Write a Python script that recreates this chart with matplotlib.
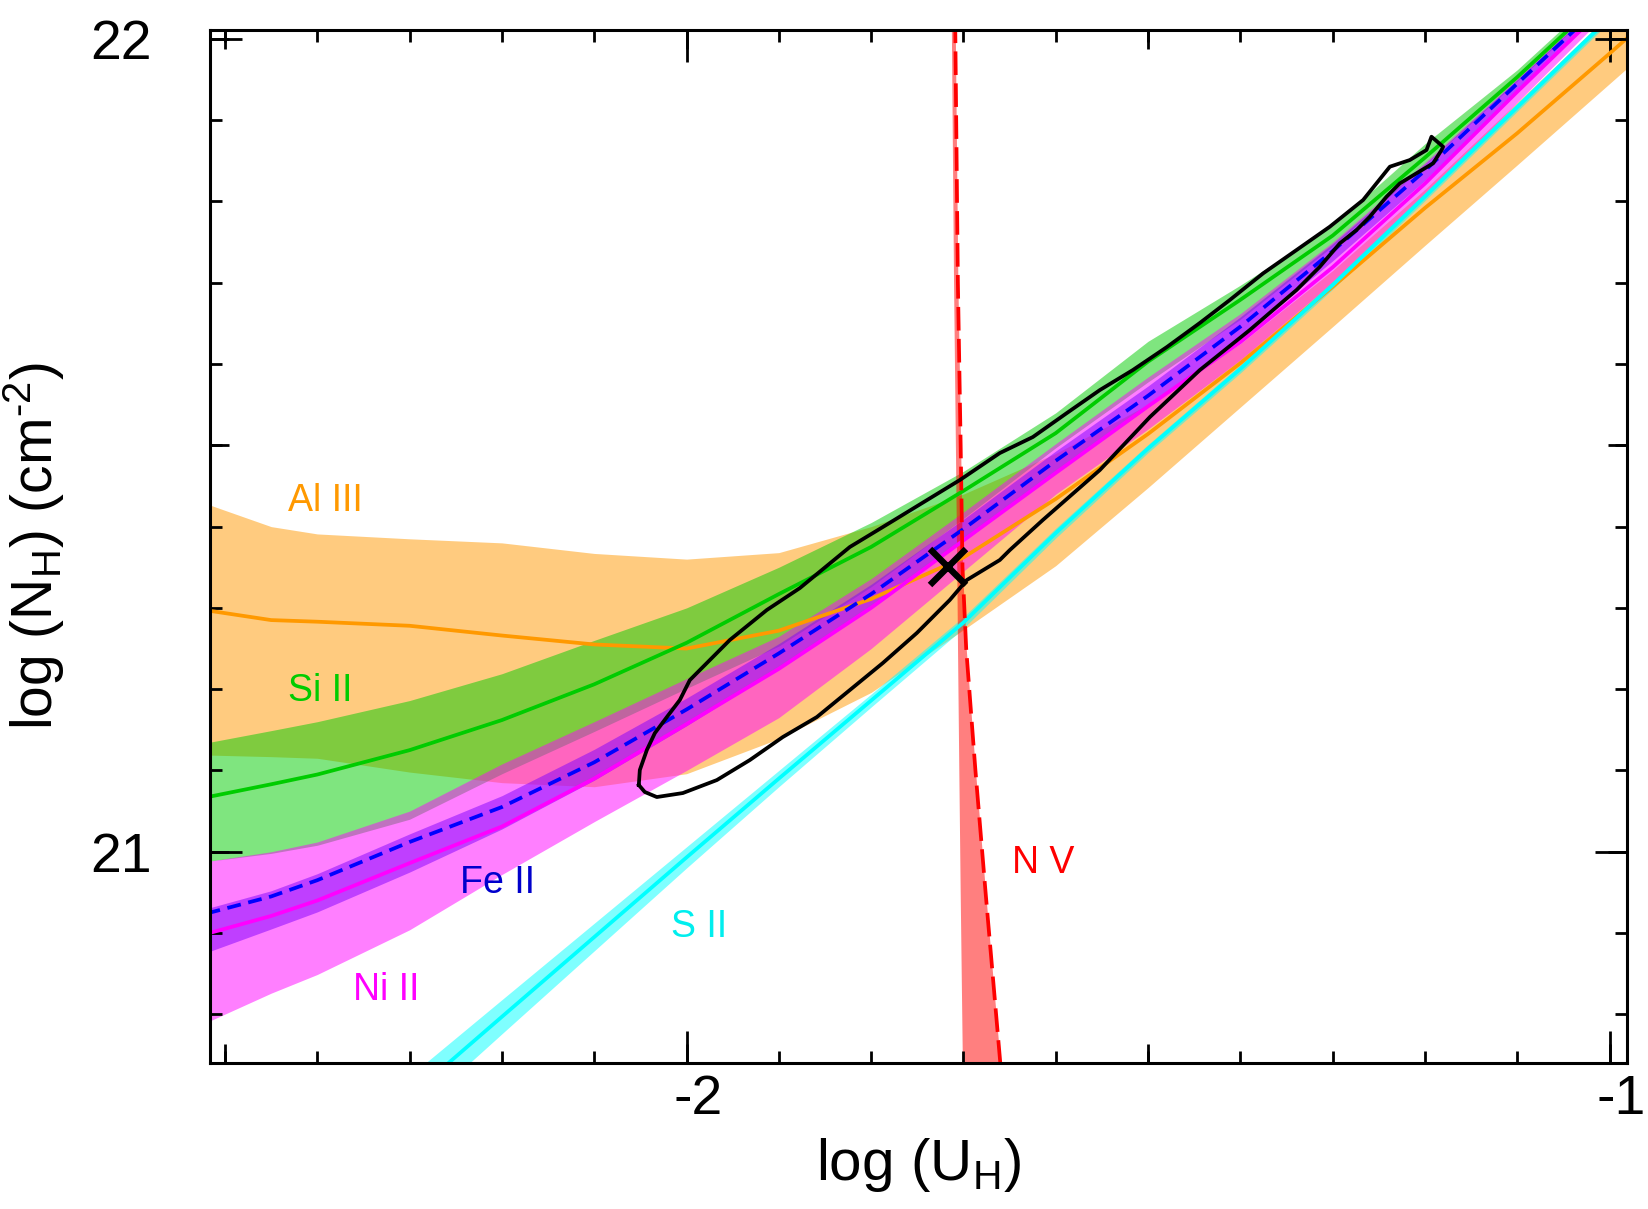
import matplotlib
matplotlib.use('Agg')
import matplotlib.pyplot as plt
from matplotlib.ticker import MultipleLocator
from matplotlib.transforms import ScaledTranslation

plt.rcParams['font.family'] = ['Liberation Sans', 'DejaVu Sans']
plt.rcParams['mathtext.fontset'] = 'custom'
plt.rcParams['mathtext.rm'] = 'Liberation Sans'
plt.rcParams['mathtext.it'] = 'Liberation Sans:italic'
plt.rcParams['mathtext.bf'] = 'Liberation Sans:bold'
plt.rcParams['axes.unicode_minus'] = False
plt.rcParams['lines.scale_dashes'] = False

# ---------------- data (log U_H grid) ----------------
log_u = [-2.52, -2.45, -2.40, -2.30, -2.20, -2.10, -2.00, -1.90, -1.80,
         -1.70, -1.60, -1.50, -1.40, -1.30, -1.20, -1.10, -1.00, -0.97]

# Al III
al3_mid = [21.297, 21.285, 21.283, 21.278, 21.266, 21.255, 21.250, 21.272, 21.311,
           21.362, 21.434, 21.514, 21.601, 21.695, 21.792, 21.884, 21.982, 22.012]
al3_hi = [21.428, 21.400, 21.391, 21.385, 21.380, 21.367, 21.360, 21.368, 21.400,
          21.440, 21.490, 21.550, 21.625, 21.715, 21.815, 21.922, 22.030, 22.065]
al3_lo = [21.119, 21.117, 21.115, 21.098, 21.085, 21.080, 21.096, 21.139, 21.196,
          21.273, 21.352, 21.448, 21.547, 21.646, 21.746, 21.845, 21.945, 21.975]

# Si II
si2_mid = [21.067, 21.083, 21.095, 21.125, 21.162, 21.206, 21.257, 21.317, 21.375,
           21.444, 21.515, 21.603, 21.679, 21.758, 21.854, 21.953, 22.058, 22.090]
si2_hi = [21.134, 21.149, 21.160, 21.186, 21.219, 21.260, 21.300, 21.350, 21.405,
          21.468, 21.540, 21.628, 21.697, 21.770, 21.871, 21.962, 22.066, 22.098]
si2_lo = [20.988, 20.998, 21.008, 21.040, 21.096, 21.148, 21.201, 21.253, 21.326,
          21.410, 21.497, 21.578, 21.655, 21.745, 21.845, 21.948, 22.054, 22.086]

# Fe II
fe2_mid = [20.924, 20.945, 20.965, 21.012, 21.055, 21.110, 21.175, 21.244, 21.317,
           21.397, 21.481, 21.561, 21.646, 21.739, 21.838, 21.945, 22.051, 22.083]
fe2_hi = [20.930, 20.952, 20.973, 21.022, 21.069, 21.126, 21.189, 21.256, 21.329,
          21.409, 21.493, 21.573, 21.658, 21.748, 21.846, 21.950, 22.055, 22.087]
fe2_lo = [20.876, 20.905, 20.926, 20.975, 21.028, 21.088, 21.155, 21.226, 21.300,
          21.382, 21.467, 21.547, 21.633, 21.727, 21.826, 21.936, 22.043, 22.075]

# Ni II
ni2_mid = [20.899, 20.921, 20.940, 20.986, 21.031, 21.090, 21.157, 21.225, 21.300,
           21.383, 21.466, 21.548, 21.627, 21.719, 21.822, 21.935, 22.045, 22.077]
ni2_hi = [20.988, 21.000, 21.012, 21.050, 21.108, 21.160, 21.213, 21.265, 21.336,
          21.418, 21.502, 21.584, 21.662, 21.750, 21.848, 21.951, 22.056, 22.088]
ni2_lo = [20.790, 20.826, 20.849, 20.904, 20.972, 21.037, 21.100, 21.165, 21.250,
          21.345, 21.440, 21.520, 21.605, 21.700, 21.805, 21.922, 22.035, 22.067]

# S II
s2_u = [-2.32, -2.20, -2.10, -2.00, -1.90, -1.80, -1.70, -1.60, -1.50, -1.40,
        -1.30, -1.20, -1.10, -1.00, -0.97]
s2_mid = [20.679, 20.797, 20.895, 20.993, 21.090, 21.186, 21.282, 21.392, 21.496,
          21.594, 21.697, 21.806, 21.916, 22.026, 22.060]
s2_err = [0.026, 0.021, 0.017, 0.013, 0.010, 0.008, 0.007, 0.006, 0.005, 0.005,
          0.005, 0.005, 0.005, 0.005, 0.005]

# N V (log U as a function of log N_H)
nv_nh = [20.70, 20.95, 21.10, 21.25, 21.35, 21.50, 21.70, 22.03]
nv_u_hi = [-1.657, -1.676, -1.687, -1.697, -1.701, -1.703, -1.706, -1.709]
nv_u_lo = [-1.7007, -1.7035, -1.7050, -1.7064, -1.7072, -1.7087, -1.7107, -1.7132]

# solution contour
contour_u = [-2.0517, -2.0506, -2.0430, -2.0343, -2.0213, -2.0073, -1.9964, -1.9531,
             -1.9130, -1.8772, -1.8231, -1.7873, -1.7039, -1.6606, -1.6248, -1.5880,
             -1.5522, -1.5165, -1.4796, -1.4439, -1.4114, -1.3753, -1.3391, -1.3030,
             -1.2670, -1.2380, -1.2164, -1.1983, -1.1929, -1.1803, -1.1820, -1.1911,
             -1.2091, -1.2272, -1.2416, -1.2597, -1.2741, -1.2922, -1.3139, -1.3391,
             -1.3645, -1.3897, -1.4439, -1.4980, -1.5522, -1.6140, -1.6497, -1.6606,
             -1.6963, -1.7148, -1.7505, -1.7873, -1.8231, -1.8588, -1.8957, -1.9314,
             -1.9671, -2.0040, -2.0322, -2.0452, -2.0517]
contour_nh = [21.0821, 21.1005, 21.1251, 21.1460, 21.1657, 21.1866, 21.2112, 21.2605,
              21.2974, 21.3244, 21.3749, 21.3995, 21.4573, 21.4905, 21.5102, 21.5397,
              21.5680, 21.5926, 21.6209, 21.6505, 21.6788, 21.7116, 21.7403, 21.7690,
              21.8018, 21.8428, 21.8510, 21.8633, 21.8797, 21.8674, 21.8633, 21.8470,
              21.8347, 21.8223, 21.8059, 21.7813, 21.7649, 21.7485, 21.7197, 21.6911,
              21.6665, 21.6419, 21.5926, 21.5348, 21.4696, 21.4081, 21.3712, 21.3589,
              21.3343, 21.3097, 21.2691, 21.2322, 21.1989, 21.1657, 21.1411, 21.1128,
              21.0882, 21.0722, 21.0673, 21.0735, 21.0821]

best_u = -1.7166
best_nh = 21.3506

ion_names = ['Al III', 'Si II', 'Fe II', 'Ni II', 'S II', 'N V']
ion_label_u = [-2.4313, -2.4313, -2.2456, -2.361, -2.0163, -1.6479]
ion_label_nh = [21.4192, 21.1852, 20.9488, 20.817, 20.8954, 20.9734]
ion_label_colors = ['#ff9900', '#00cc00', '#0000cc', '#ff00ff', '#00eeee', '#ff0000']

xtick_vals = [-2, -1]
xtick_text = ['-2', '-1']
ytick_vals = [21, 22]
ytick_text = ['21', '22']

# ---------------- figure ----------------
fig = plt.figure(figsize=(16.49, 12.09), dpi=100)
pos = [0.1275, 0.1205, 0.8592, 0.8547]
ax = fig.add_axes(pos)

xlim = (-2.516, -0.981)
ylim = (20.7397, 22.011)

C_AL, C_SI, C_FE, C_NI, C_S, C_N = '#ff9900', '#00cc00', '#0000ff', '#ff00ff', '#00ffff', '#ff0000'
A = 0.5
LW = 2.7

ax.fill_between(log_u, al3_lo, al3_hi, color=C_AL, alpha=A, lw=0, zorder=1)
ax.fill_between(log_u, si2_lo, si2_hi, color=C_SI, alpha=A, lw=0, zorder=1.1)
ax.fill_between(log_u, fe2_lo, fe2_hi, color=C_FE, alpha=A, lw=0, zorder=1.2)
ax.fill_between(log_u, ni2_lo, ni2_hi, color=C_NI, alpha=A, lw=0, zorder=1.3)
s2_lo = [m - e for m, e in zip(s2_mid, s2_err)]
s2_hi = [m + e for m, e in zip(s2_mid, s2_err)]
ax.fill_between(s2_u, s2_lo, s2_hi, color=C_S, alpha=A, lw=0, zorder=1.4)
ax.fill_betweenx(nv_nh, nv_u_lo, nv_u_hi, color=C_N, alpha=A, lw=0, zorder=1.5)

ax.plot(log_u, al3_mid, color=C_AL, lw=LW, zorder=2)
ax.plot(log_u, si2_mid, color=C_SI, lw=LW, zorder=2)
ax.plot(log_u, ni2_mid, color=C_NI, lw=LW, zorder=2)
ax.plot(log_u, fe2_mid, color=C_FE, lw=LW, ls=(0, (10, 5.5)), zorder=2.1)
ax.plot(s2_u, s2_mid, color=C_S, lw=LW, zorder=2)
ax.plot(nv_u_hi, nv_nh, color=C_N, lw=LW, ls=(0, (17, 6)), zorder=2.1)

ax.plot(contour_u, contour_nh, color='black', lw=LW, solid_joinstyle='round', zorder=3)
ax.plot([best_u], [best_nh], marker='x', ms=26, mew=4.6, color='black', zorder=4)

for name, u, nh, c in zip(ion_names, ion_label_u, ion_label_nh, ion_label_colors):
    ax.text(u, nh, name, color=c, fontsize=27, ha='left', va='baseline', zorder=5)

ax.set_xlim(*xlim)
ax.set_ylim(*ylim)
ax.set_xticks(xtick_vals, labels=xtick_text)
ax.set_yticks(ytick_vals, labels=ytick_text)
ax.xaxis.set_minor_locator(MultipleLocator(0.1))
ax.yaxis.set_minor_locator(MultipleLocator(0.1))
ax.tick_params(which='both', direction='in', top=True, right=True, width=2.0, color='black')
ax.tick_params(which='major', length=23)
ax.tick_params(which='minor', length=8.5)
ax.tick_params(axis='x', which='major', labelsize=40, pad=8)
ax.tick_params(axis='y', which='major', labelsize=40, pad=42)
for sp in ax.spines.values():
    sp.set_linewidth(2.2)

shift = ScaledTranslation(0.12, 0, fig.dpi_scale_trans)
for lab in ax.get_xticklabels():
    lab.set_transform(lab.get_transform() + shift)

ax.set_xlabel('log (U$_\\mathrm{H}$)', fontsize=42, labelpad=7)
ax.set_ylabel('log (N$_\\mathrm{H}$) (cm$^{\\text{-}2}$)', fontsize=41, labelpad=17)

# medium ticks at every 0.5
axm = fig.add_axes(pos, frameon=False)
axm.set_xlim(*xlim)
axm.set_ylim(*ylim)
axm.xaxis.set_major_locator(MultipleLocator(0.5))
axm.yaxis.set_major_locator(MultipleLocator(0.5))
axm.tick_params(which='major', direction='in', length=14, width=2.0,
                top=True, right=True, bottom=True, left=True,
                labelbottom=False, labelleft=False, labeltop=False, labelright=False)
axm.patch.set_visible(False)

fig.savefig('out.png', dpi=100)
